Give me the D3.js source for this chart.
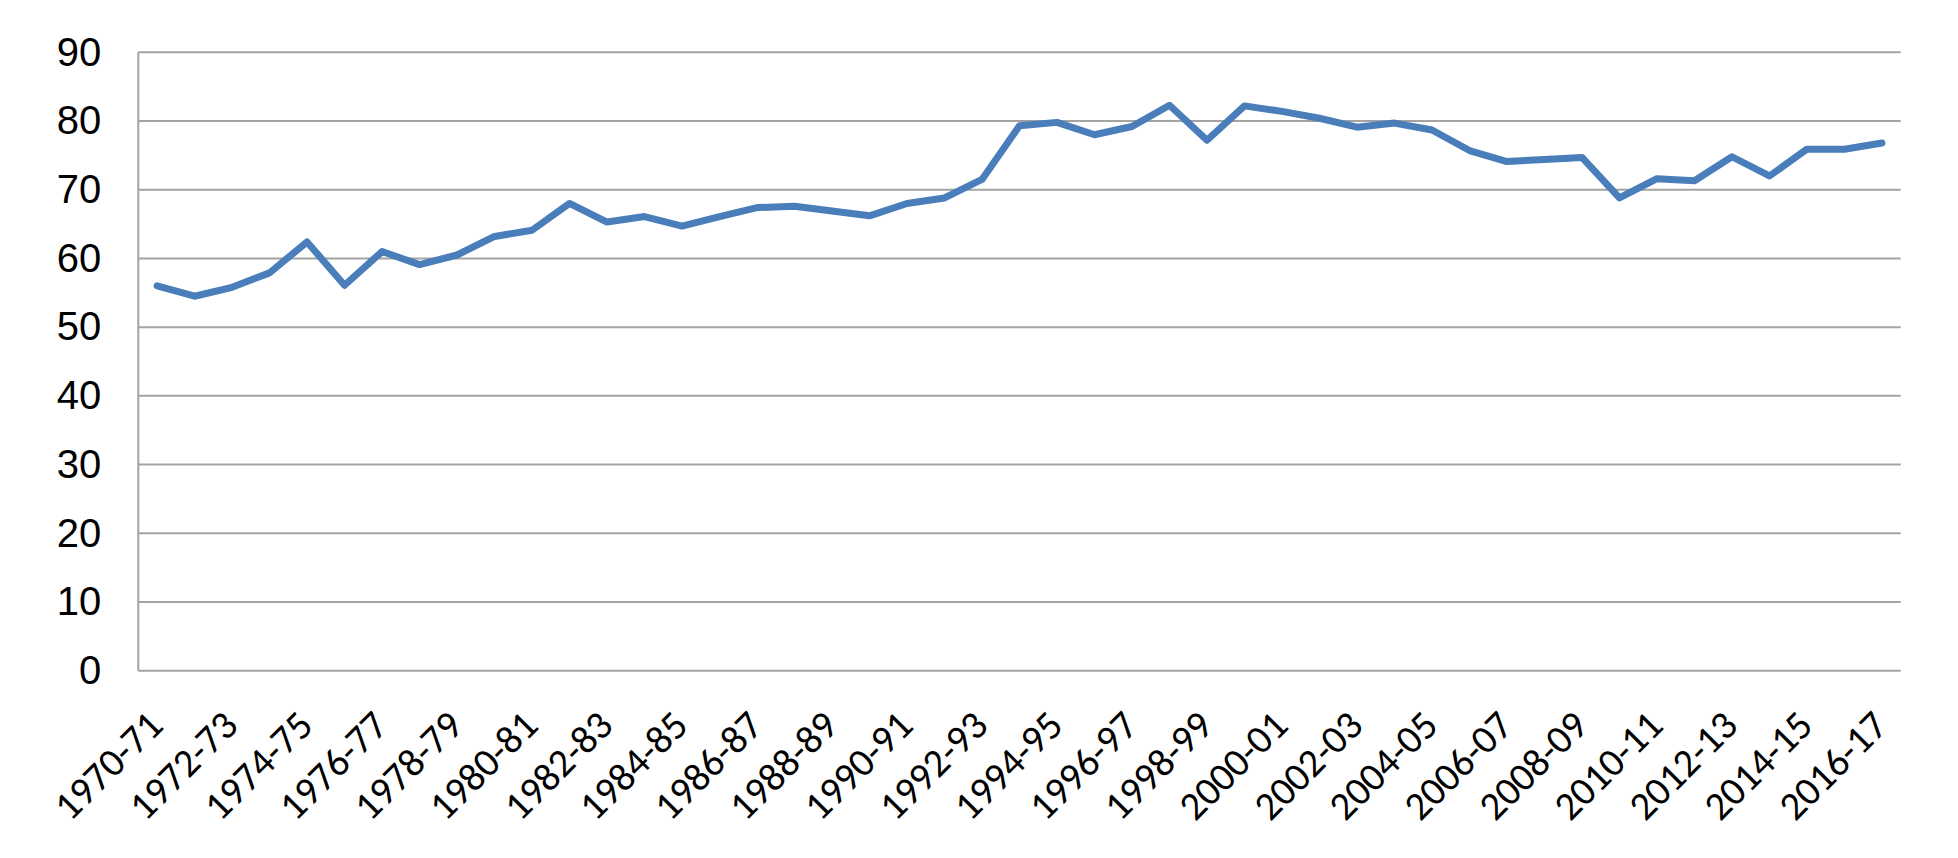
<!DOCTYPE html>
<html>
<head>
<meta charset="utf-8">
<script src="https://cdn.jsdelivr.net/npm/d3@7"></script>
<style>
  html, body { margin: 0; padding: 0; background: #ffffff; }
  svg { display: block; }
</style>
</head>
<body>
<div id="chart"></div>
<script>
const categories = [
  "1970-71","1971-72","1972-73","1973-74","1974-75","1975-76","1976-77","1977-78",
  "1978-79","1979-80","1980-81","1981-82","1982-83","1983-84","1984-85","1985-86",
  "1986-87","1987-88","1988-89","1989-90","1990-91","1991-92","1992-93","1993-94",
  "1994-95","1995-96","1996-97","1997-98","1998-99","1999-00","2000-01","2001-02",
  "2002-03","2003-04","2004-05","2005-06","2006-07","2007-08","2008-09","2009-10",
  "2010-11","2011-12","2012-13","2013-14","2014-15","2015-16","2016-17"
];
const values = [
  56.0, 54.5, 55.8, 57.9, 62.4, 56.1, 61.0, 59.1,
  60.5, 63.2, 64.1, 68.0, 65.3, 66.1, 64.7, 66.1,
  67.4, 67.6, 66.9, 66.2, 68.0, 68.8, 71.5, 79.3,
  79.8, 78.0, 79.2, 82.3, 77.2, 82.2, 81.4, 80.4,
  79.1, 79.7, 78.7, 75.7, 74.1, 74.4, 74.7, 68.8,
  71.6, 71.3, 74.8, 72.0, 75.9, 75.9, 76.8
];
const yTicks = [0, 10, 20, 30, 40, 50, 60, 70, 80, 90];
const xTickLabels = categories.filter((c, i) => i % 2 === 0);

const W = 1958, H = 858;
const mLeft = 138.3, mRight = 1900.7, mTop = 52.3, mBottom = 670.7;

const svg = d3.select("#chart").append("svg")
  .attr("width", W).attr("height", H);

const x = d3.scaleBand().domain(categories).range([mLeft, mRight]).padding(0);
const y = d3.scaleLinear().domain([0, 90]).range([mBottom, mTop]);

const gridColor = "#a3a3a3";

// horizontal gridlines
svg.append("g")
  .selectAll("line")
  .data(yTicks)
  .join("line")
  .attr("x1", mLeft).attr("x2", mRight)
  .attr("y1", d => y(d)).attr("y2", d => y(d))
  .attr("stroke", gridColor)
  .attr("stroke-width", 2);

// vertical axis line
svg.append("line")
  .attr("x1", mLeft).attr("x2", mLeft)
  .attr("y1", y(90)).attr("y2", y(0))
  .attr("stroke", gridColor)
  .attr("stroke-width", 2);

// y axis labels
const yAxis = svg.append("g")
  .attr("transform", `translate(${mLeft},0)`)
  .call(d3.axisLeft(y).tickValues(yTicks).tickSize(0).tickPadding(37).tickFormat(d3.format("d")));
yAxis.select(".domain").remove();
yAxis.selectAll("text")
  .attr("font-family", "'Liberation Sans', Arial, sans-serif")
  .attr("font-size", 40)
  .attr("fill", "#000");

// x axis labels
const xAxis = svg.append("g")
  .attr("transform", `translate(0,${mBottom})`)
  .call(d3.axisBottom(x).tickValues(xTickLabels).tickSize(0));
xAxis.select(".domain").remove();
xAxis.selectAll("text")
  .attr("font-family", "Carlito, Calibri, Lato, sans-serif")
  .attr("font-size", 40)
  .attr("fill", "#000")
  .attr("text-anchor", "end")
  .attr("dy", null)
  .attr("y", null)
  .attr("transform", "translate(8,57) rotate(-45)");

// line
const line = d3.line()
  .x((d, i) => x(categories[i]) + x.bandwidth() / 2)
  .y(d => y(d));

svg.append("path")
  .datum(values)
  .attr("d", line)
  .attr("fill", "none")
  .attr("stroke", "#4a7ebb")
  .attr("stroke-width", 7)
  .attr("stroke-linejoin", "round")
  .attr("stroke-linecap", "round");
</script>
</body>
</html>
